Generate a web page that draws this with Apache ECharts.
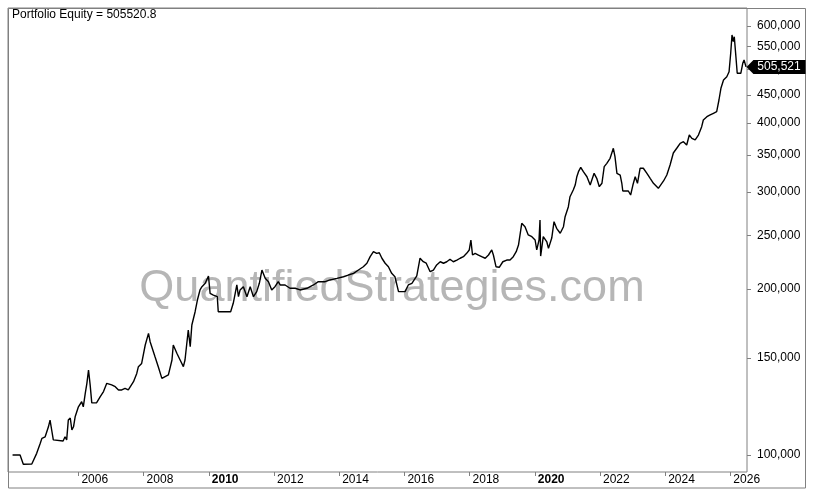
<!DOCTYPE html>
<html><head><meta charset="utf-8">
<script src="https://cdn.jsdelivr.net/npm/echarts@6/dist/echarts.min.js"></script>
<style>html,body{margin:0;padding:0;background:#fff;}#c{width:814px;height:494px;}</style>
</head><body><div id="c"></div>
<script>
const years = [
2003.98,2004.21,2004.23,2004.31,2004.57,2004.62,2004.72,2004.83,2004.88,2004.98,
2005.08,2005.13,2005.18,2005.23,2005.53,2005.59,2005.64,2005.69,2005.75,2005.80,
2005.85,2005.90,2006.00,2006.10,2006.15,2006.21,2006.26,2006.31,2006.36,2006.41,
2006.56,2006.67,2006.77,2006.87,2006.92,2007.02,2007.13,2007.23,2007.33,2007.43,
2007.53,2007.59,2007.69,2007.79,2007.84,2007.94,2008.05,2008.15,2008.20,2008.25,
2008.35,2008.45,2008.56,2008.66,2008.76,2008.87,2008.91,2009.02,2009.12,2009.22,
2009.27,2009.37,2009.43,2009.48,2009.58,2009.65,2009.73,2009.79,2009.89,2009.99,
2010.04,2010.14,2010.26,2010.29,2010.67,2010.75,2010.81,2010.86,2010.91,2010.96,
2011.06,2011.17,2011.27,2011.37,2011.47,2011.55,2011.63,2011.73,2011.83,2011.93,
2012.03,2012.13,2012.19,2012.34,2012.49,2012.65,2012.80,2013.01,2013.21,2013.36,
2013.57,2013.72,2013.93,2014.13,2014.28,2014.44,2014.59,2014.74,2014.85,2014.95,
2015.05,2015.15,2015.23,2015.31,2015.41,2015.51,2015.61,2015.71,2015.82,2016.02,
2016.12,2016.23,2016.38,2016.48,2016.58,2016.67,2016.79,2016.89,2016.99,2017.10,
2017.20,2017.30,2017.40,2017.50,2017.61,2017.71,2017.81,2017.91,2017.99,2018.04,
2018.09,2018.17,2018.27,2018.37,2018.48,2018.58,2018.68,2018.73,2018.81,2018.91,
2019.02,2019.14,2019.24,2019.34,2019.43,2019.50,2019.55,2019.60,2019.65,2019.70,
2019.80,2019.91,2020.01,2020.06,2020.13,2020.16,2020.18,2020.26,2020.37,2020.42,
2020.52,2020.59,2020.67,2020.78,2020.88,2020.93,2021.03,2021.08,2021.18,2021.24,
2021.29,2021.34,2021.41,2021.49,2021.60,2021.70,2021.75,2021.82,2021.90,2021.98,
2022.06,2022.13,2022.21,2022.31,2022.41,2022.46,2022.52,2022.62,2022.67,2022.70,
2022.87,2022.94,2023.01,2023.08,2023.15,2023.23,2023.33,2023.44,2023.54,2023.64,
2023.69,2023.79,2023.84,2023.95,2024.05,2024.15,2024.25,2024.36,2024.46,2024.56,
2024.66,2024.74,2024.82,2024.92,2025.02,2025.12,2025.17,2025.28,2025.38,2025.48,
2025.58,2025.65,2025.71,2025.79,2025.89,2025.96,2026.01,2026.05,2026.09,2026.12,
2026.17,2026.21,2026.32,2026.38,2026.42,2026.48
];
const equityK = [
100.0,100.0,99.2,96.2,96.3,96.8,100.7,105.0,107.2,107.9,
112.5,115.7,111.0,106.5,106.0,107.9,106.5,115.7,116.7,111.0,
112.5,117.3,122.3,124.9,122.3,129.4,134.9,142.6,134.0,124.3,
124.4,127.6,130.3,134.9,135.2,134.0,133.0,131.2,131.2,132.1,
131.2,130.3,135.8,140.6,144.6,146.6,158.3,166.2,160.5,157.2,
150.7,144.6,137.7,138.7,139.7,148.7,158.3,152.9,148.7,144.6,
148.7,168.5,157.2,172.1,181.9,191.0,199.2,201.9,204.8,211.2,
196.4,195.0,193.7,181.9,181.9,188.4,196.4,203.4,193.7,199.2,
201.9,193.7,201.9,193.7,197.8,204.8,216.5,209.1,206.2,199.2,
201.9,206.2,203.4,203.4,200.6,200.6,199.2,200.6,203.4,206.2,
206.2,207.7,209.1,210.5,212.0,213.5,216.5,219.5,222.7,228.9,
233.7,232.1,232.7,227.4,222.7,219.5,213.5,210.5,197.8,197.8,
203.4,204.8,211.2,227.4,224.1,222.7,215.0,216.5,221.1,224.1,
222.7,224.1,226.4,224.1,225.7,227.4,228.9,232.1,235.4,245.4,
230.5,232.1,230.5,228.9,227.4,230.5,235.4,230.5,219.5,219.0,
224.1,225.7,225.7,228.9,233.7,240.3,242.0,263.1,263.1,259.4,
250.6,248.8,245.4,235.4,245.4,266.8,229.5,248.8,243.4,237.0,
247.4,264.9,257.7,252.4,259.4,270.5,282.0,294.0,302.4,308.7,
319.6,326.4,332.4,326.4,319.6,308.7,315.3,324.2,317.5,306.6,
311.0,333.3,338.0,345.2,359.9,347.5,324.2,321.9,311.0,301.1,
301.1,296.1,308.7,319.6,311.0,331.1,331.1,324.2,317.5,311.0,
313.0,304.5,302.4,314.0,321.9,335.7,352.9,360.3,367.5,369.9,
364.9,380.4,375.2,372.6,380.4,393.9,405.0,410.6,413.6,416.5,
419.3,440.3,462.3,478.7,485.3,495.5,535.1,577.6,561.6,573.5,
527.5,492.2,492.2,513.2,520.4,505.5208
];
const yTicks = [100000,150000,200000,250000,300000,350000,400000,450000,500000,550000,600000];
const xTickYears = [2006,2008,2010,2012,2014,2016,2018,2020,2022,2024,2026];
const boldYears = [2010,2020];
const xRange = [2003.84, 2026.51];
const yRange = [93150, 646500];
const titleText = 'Portfolio Equity = 505520.8';
const watermarkText = 'QuantifiedStrategies.com';

const FONT = '"Liberation Sans", Arial, sans-serif';
const n = Math.min(years.length, equityK.length);
const data = [];
for (let i = 0; i < n; i++) data.push([years[i], Math.log(equityK[i] * 1000)]);
const last = data[data.length - 1];
const lastVal = equityK[n - 1] * 1000;
const fmt = v => Math.round(v).toLocaleString('en-US');
const logTicks = yTicks.map(Math.log);

const chart = echarts.init(document.getElementById('c'), null, {renderer: 'canvas'});
chart.setOption({
  animation: false,
  grid: {left: 8, top: 8, right: 67, bottom: 22, show: true, borderColor: '#808080', borderWidth: 1},
  xAxis: {
    type: 'value', min: xRange[0], max: xRange[1],
    axisLine: {show: false}, splitLine: {show: false},
    axisTick: {show: true, customValues: xTickYears, length: 4, lineStyle: {color: '#808080'}},
    axisLabel: {
      customValues: xTickYears, align: 'left', margin: 2, padding: [0, 0, 0, 3],
      color: '#000', fontFamily: FONT, fontSize: 12,
      formatter: v => boldYears.indexOf(v) >= 0 ? '{b|' + v + '}' : String(v),
      rich: {b: {fontWeight: 'bold', fontFamily: FONT, fontSize: 12, color: '#000'}}
    }
  },
  yAxis: {
    type: 'value', position: 'right', min: Math.log(yRange[0]), max: Math.log(yRange[1]),
    axisLine: {show: false}, splitLine: {show: false},
    axisTick: {show: true, customValues: logTicks, length: 4, lineStyle: {color: '#808080'}},
    axisLabel: {customValues: logTicks, margin: 10, color: '#000', fontFamily: FONT, fontSize: 12,
      formatter: v => fmt(Math.exp(v))}
  },
  series: [{
    type: 'line', data: data, symbol: 'none', showSymbol: false, z: 3,
    lineStyle: {color: '#000', width: 1.4},
    markPoint: {
      symbol: 'path://M0,7L7,0L60,0L60,14L7,14Z', symbolSize: [59, 14], symbolOffset: [30, 0],
      symbolKeepAspect: false, itemStyle: {color: '#000'},
      label: {show: true, color: '#fff', fontFamily: FONT, fontSize: 12, offset: [3, 0], formatter: fmt(lastVal)},
      data: [{coord: last}]
    }
  }],
  graphic: {elements: [
    {type: 'text', z: 1, x: 392, y: 289, silent: true,
     style: {text: watermarkText, fill: '#b6b6b6', fontSize: 45, fontFamily: FONT, align: 'center', verticalAlign: 'middle'}},
    {type: 'text', z: 5, x: 12, y: 15, silent: true,
     style: {text: titleText, fill: '#000', fontSize: 12, fontFamily: FONT, align: 'left', verticalAlign: 'middle'}},
    {type: 'rect', z: 5, silent: true, shape: {x: 8.5, y: 8.5, width: 797, height: 479.5},
     style: {fill: 'none', stroke: '#808080', lineWidth: 1}}
  ]}
});
</script></body></html>
